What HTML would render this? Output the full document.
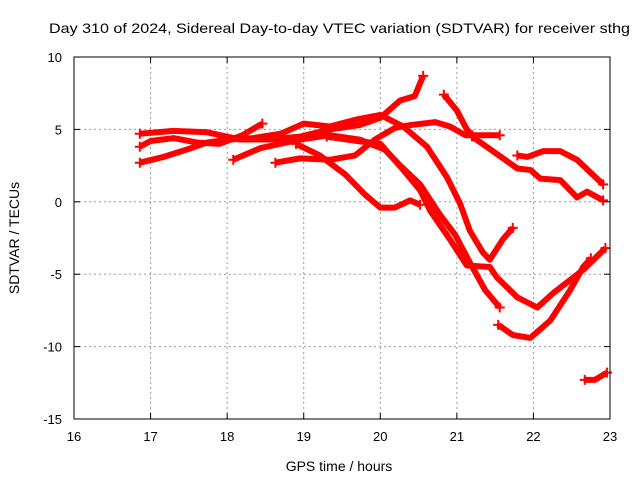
<!DOCTYPE html>
<html><head><meta charset="utf-8"><style>
body{margin:0;background:#fff}
svg{display:block;font-family:"Liberation Sans",sans-serif}
</style></head><body>
<svg id="chart" width="640" height="480">
<text x="49" y="33" font-size="14" textLength="581" lengthAdjust="spacingAndGlyphs">Day 310 of 2024, Sidereal Day-to-day VTEC variation (SDTVAR) for receiver sthg</text>
<text x="339" y="471" font-size="14" text-anchor="middle">GPS time / hours</text>
<text transform="translate(19,238) rotate(-90)" font-size="14" text-anchor="middle">SDTVAR / TECUs</text>
<g id="grid"></g><g id="series"></g>
<rect x="74" y="57" width="536" height="362" fill="none" stroke="#000"/>
</svg>
<script>
const xTicks=[16,17,18,19,20,21,22,23];
const yTicks=[-15,-10,-5,0,5,10];
const sA=[[16.86,4.7],[17.3,4.9],[17.74,4.8],[18.17,4.3],[18.56,4.3],[18.95,4.5],[19.34,5.0],[19.73,5.3],[20.0,5.8],[20.26,7.0],[20.45,7.3],[20.56,8.7]];
const sB=[[16.86,3.8],[17.0,4.2],[17.3,4.4],[17.6,4.1],[17.9,4.0],[18.2,4.6],[18.46,5.4]];
const sC=[[16.86,2.7],[17.17,3.1],[17.47,3.6],[17.74,4.1],[18.04,4.3],[18.34,4.4],[18.7,4.7],[19.0,5.4],[19.34,5.2],[19.7,5.7],[20.0,6.0],[20.3,5.2],[20.61,3.8],[20.87,1.7],[21.04,-0.1],[21.17,-2.0],[21.34,-3.5],[21.43,-4.0],[21.6,-2.6],[21.73,-1.8]];
const sD=[[18.08,2.9],[18.43,3.7],[18.95,4.3],[19.34,4.6],[19.73,4.3],[20.06,3.6],[20.26,2.5],[20.52,1.2],[20.78,-0.9],[20.98,-2.3],[21.17,-4.2],[21.37,-6.1],[21.56,-7.3]];
const sE=[[18.63,2.7],[18.95,3.0],[19.34,2.9],[19.67,3.2],[19.93,4.3],[20.19,5.1],[20.39,5.3],[20.72,5.5],[20.91,5.2],[21.11,4.6],[21.56,4.6]];
const sF=[[18.9,4.0],[19.21,3.2],[19.54,1.9],[19.8,0.5],[20.0,-0.4],[20.19,-0.4],[20.39,0.1],[20.52,-0.2]];
const sG=[[20.83,7.4],[21.0,6.3],[21.13,5.0],[21.2,4.6]];
const sH=[[19.3,4.5],[19.7,4.2],[20.0,4.0],[20.3,2.2],[20.52,0.8],[20.65,-0.6],[20.91,-2.6],[21.13,-4.4],[21.43,-4.5],[21.52,-5.2],[21.79,-6.6],[22.05,-7.3],[22.26,-6.3],[22.65,-4.7],[22.94,-3.2]];
const sI=[[21.54,-8.5],[21.73,-9.2],[21.96,-9.4],[22.22,-8.2],[22.48,-6.1],[22.65,-4.5],[22.75,-3.9]];
const sJ=[[21.79,3.2],[21.92,3.1],[22.13,3.5],[22.35,3.5],[22.57,2.9],[22.91,1.2]];
const sK=[[21.2,4.5],[21.39,3.8],[21.79,2.3],[21.96,2.2],[22.09,1.6],[22.35,1.5],[22.57,0.3],[22.7,0.7],[22.91,0.1]];
const sL=[[22.67,-12.3],[22.8,-12.3],[22.96,-11.8]];
const allSeries=[sA,sB,sC,sD,sE,sF,sG,sH,sI,sJ,sK,sL];
const X=v=>74+(v-16)*(536/7);
const Y=v=>57+(10-v)*(362/25);
const NS="http://www.w3.org/2000/svg";
const grid=document.getElementById('grid'),ser=document.getElementById('series');
function mk(t,a,p){const e=document.createElementNS(NS,t);for(const k in a)e.setAttribute(k,a[k]);p.appendChild(e);return e;}
xTicks.forEach(t=>{
 const x=X(t);
 if(t>16&&t<23){const l=mk('line',{x1:x,x2:x,y1:57,y2:419,stroke:'#999','stroke-dasharray':'2,3'},grid);
 
 }
 const tx=mk('text',{x:x,y:441,'font-size':13,'text-anchor':'middle'},grid);tx.textContent=t;
 
 
 mk('line',{x1:x,x2:x,y1:57,y2:63,stroke:'#000'},grid);mk('line',{x1:x,x2:x,y1:419,y2:413,stroke:'#000'},grid);
});
yTicks.forEach(t=>{
 const y=Y(t);
 if(t>-15&&t<10){const l=mk('line',{x1:74,x2:610,y1:y,y2:y,stroke:'#999','stroke-dasharray':'2,3'},grid);
 
 }
 const tx=mk('text',{x:62,y:y+5,'font-size':13,'text-anchor':'end'},grid);tx.textContent=t;
 
 
 mk('line',{x1:74,x2:80,y1:y,y2:y,stroke:'#000'},grid);mk('line',{x1:610,x2:604,y1:y,y2:y,stroke:'#000'},grid);
});
allSeries.forEach((s,i)=>{
 const p=mk('polyline',{points:s.map(d=>X(d[0])+','+Y(d[1])).join(' '),fill:'none',stroke:'#f00','stroke-width':6,'stroke-linejoin':'round','stroke-linecap':'butt'},ser);
 
 
 [s[0],s[s.length-1]].forEach(d=>{
  mk('path',{d:`M${X(d[0])-5},${Y(d[1])}h10M${X(d[0])},${Y(d[1])-5}v10`,stroke:'#f00','stroke-width':2},ser);
 });
});
</script>
</body></html>
